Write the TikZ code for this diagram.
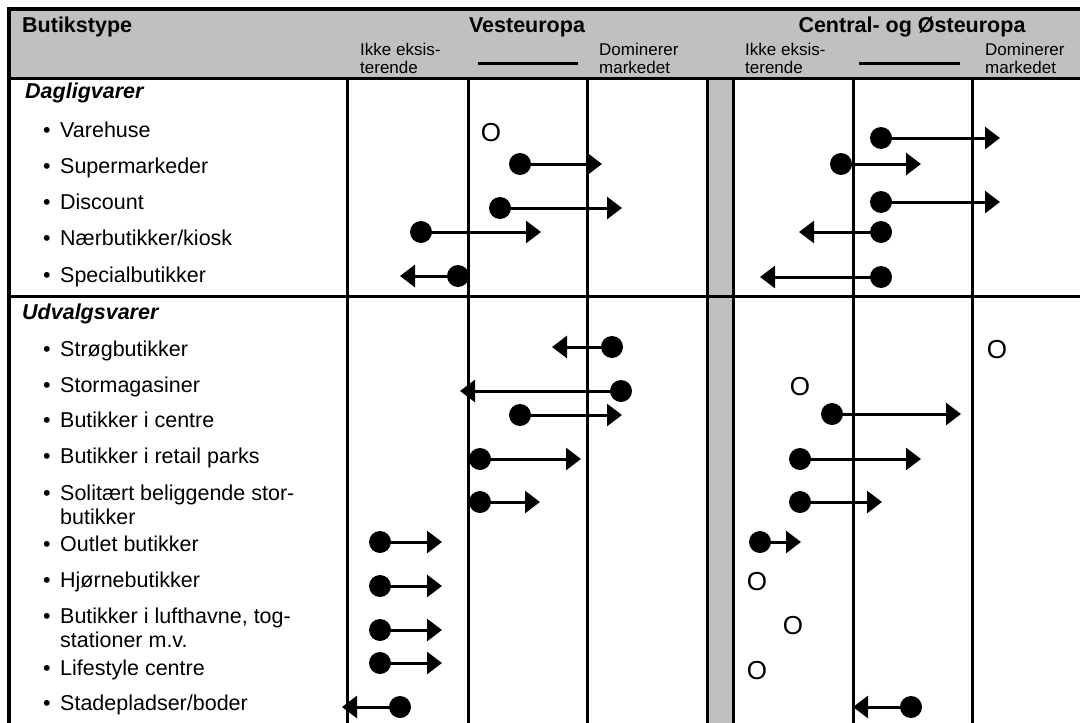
\documentclass[tikz,border=0pt]{standalone}
\usepackage{fontspec}
\setmainfont{Liberation Sans}
\usetikzlibrary{arrows.meta}
\definecolor{hdrgray}{RGB}{192,192,192}
\tikzset{
  rule/.style={line width=3pt, line cap=rect},
  frame/.style={line width=4pt, line cap=rect},
  dot/.style={circle, fill=black, minimum size=22pt, inner sep=0pt},
  trend/.style={line width=3pt, -{Triangle[length=15pt,width=22pt]}},
  absent/.style={inner sep=0pt, font=\fontsize{26}{26}\selectfont},
  lbl/.style={anchor=base west, inner sep=0pt, font=\fontsize{21.5}{24}\selectfont},
  bul/.style={anchor=base, inner sep=0pt, font=\fontsize{21.5}{24}\selectfont},
  sect/.style={anchor=base west, inner sep=0pt, font=\fontsize{21.5}{24}\selectfont\bfseries\itshape},
  hdr/.style={inner sep=0pt, font=\fontsize{21.5}{24}\selectfont\bfseries},
  small/.style={anchor=base west, inner sep=0pt, font=\fontsize{17}{18}\selectfont},
}
\begin{document}
\begin{tikzpicture}[x=1pt,y=-1pt]
\useasboundingbox (0,0) rectangle (1080,723);
\clip (0,0) rectangle (1080,723);
% fills
\fill[hdrgray] (9,9) rectangle (1095,78);
\fill[hdrgray] (707,78) rectangle (733,730);
% grid
\draw[frame] (9,9) -- (1095,9);
\draw[frame] (9,9) -- (9,730);
\draw[rule] (9,78) -- (1095,78);
\draw[rule] (9,296) -- (1095,296);
\foreach \xx in {347,468,587,707,733,853,972}
  \draw[rule] (\xx,78) -- (\xx,730);
% header
\node[hdr, anchor=base west] (hbt) at (22,32) {Butikstype};
\node[hdr, anchor=base] (hve) at (527,32) {Vesteuropa};
\node[hdr, anchor=base] (hce) at (912,32) {Central- og Østeuropa};
\node[small] (vi1) at (360,55) {Ikke eksis-};
\node[small] (vi2) at (360,73) {terende};
\node[small] (vd1) at (599,55) {Dominerer};
\node[small] (vd2) at (599,73) {markedet};
\node[small] (ci1) at (745,55) {Ikke eksis-};
\node[small] (ci2) at (745,73) {terende};
\node[small] (cd1) at (985,55) {Dominerer};
\node[small] (cd2) at (985,73) {markedet};
\draw[line width=3pt] (478,63) -- (578,63);
\draw[line width=3pt] (859,63) -- (960,63);
% labels
\node[sect] (s1) at (25,98) {Dagligvarer};
\node[bul] at (47,137) {•}; \node[lbl] (l1) at (60,137) {Varehuse};
\node[bul] at (47,173) {•}; \node[lbl] (l2) at (60,173) {Supermarkeder};
\node[bul] at (47,209) {•}; \node[lbl] (l3) at (60,209) {Discount};
\node[bul] at (47,245) {•}; \node[lbl] (l4) at (60,245) {Nærbutikker/kiosk};
\node[bul] at (47,282) {•}; \node[lbl] (l5) at (60,282) {Specialbutikker};
\node[sect] (s2) at (22,319) {Udvalgsvarer};
\node[bul] at (47,356) {•}; \node[lbl] (l6) at (60,356) {Strøgbutikker};
\node[bul] at (47,392) {•}; \node[lbl] (l7) at (60,392) {Stormagasiner};
\node[bul] at (47,427) {•}; \node[lbl] (l8) at (60,427) {Butikker i centre};
\node[bul] at (47,463) {•}; \node[lbl] (l9) at (60,463) {Butikker i retail parks};
\node[bul] at (47,500) {•}; \node[lbl] (l10) at (60,500) {Solitært beliggende stor-};
\node[lbl] (l10b) at (60,524) {butikker};
\node[bul] at (47,551) {•}; \node[lbl] (l11) at (60,551) {Outlet butikker};
\node[bul] at (47,587) {•}; \node[lbl] (l12) at (60,587) {Hjørnebutikker};
\node[bul] at (47,623) {•}; \node[lbl] (l13) at (60,623) {Butikker i lufthavne, tog-};
\node[lbl] (l13b) at (60,647) {stationer m.v.};
\node[bul] at (47,675) {•}; \node[lbl] (l14) at (60,675) {Lifestyle centre};
\node[bul] at (47,710) {•}; \node[lbl] (l15) at (60,710) {Stadepladser/boder};
% Vesteuropa markers
\node[absent] (vo1) at (491,133) {O};
\foreach \n/\x/\y/\t in {2/520/164/602, 3/500/208/622, 4/421/232/541, 5/458/276/400,
  6/612/347/552, 7/621/391/460, 8/520/415/622, 9/480/459/581, 10/480/502/540,
  11/380/542/442, 12/380/586/442, 13/380/630/442, 14/380/663/442, 15/400/707/342}{
  \node[dot] (vd\n) at (\x,\y) {};
  \coordinate (vt\n) at (\t,\y);
  \draw[trend] (vd\n.center) -- (vt\n);
}
% Central- og Østeuropa markers
\foreach \n/\x/\y/\t in {1/881/138/1000, 2/841/164/921, 3/881/202/1000, 4/881/232/799,
  5/881/277/760, 8/832/414/961, 9/800/459/921, 10/800/502/882, 11/760/542/801, 15/911/707/853}{
  \node[dot] (cd\n) at (\x,\y) {};
  \coordinate (ct\n) at (\t,\y);
  \draw[trend] (cd\n.center) -- (ct\n);
}
\node[absent] (co6) at (997,350) {O};
\node[absent] (co7) at (800,387) {O};
\node[absent] (co12) at (757,582) {O};
\node[absent] (co13) at (793,626) {O};
\node[absent] (co14) at (757,671) {O};
\end{tikzpicture}
\end{document}
